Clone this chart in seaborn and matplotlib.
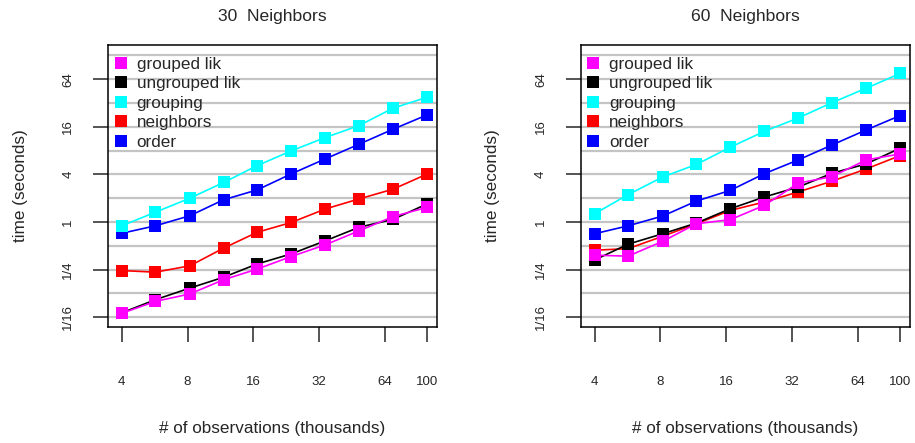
import pandas as pd
import numpy as np
import matplotlib.pyplot as plt
from matplotlib.lines import Line2D
import seaborn as sns


# observations (thousands)
n_obs = [4, 5.7, 8.2, 11.7, 16.7, 23.9, 34.2, 48.9, 69.9, 100]

series_names  = ['grouped lik', 'ungrouped lik', 'grouping', 'neighbors', 'order']
series_colors = ['#ff00ff', '#000000', '#00ffff', '#ff0000', '#0000ff']

# 30 neighbors, time in seconds
grouped_30   = [0.070, 0.099, 0.123, 0.186, 0.254, 0.366, 0.514, 0.774, 1.17, 1.53]
ungrouped_30 = [0.071, 0.104, 0.146, 0.200, 0.295, 0.395, 0.578, 0.858, 1.08, 1.69]
grouping_30  = [0.895, 1.33, 2.0, 3.16, 5.17, 7.94, 11.7, 16.6, 27.5, 37.8]
neighbors_30 = [0.243, 0.232, 0.279, 0.467, 0.742, 0.986, 1.46, 1.96, 2.60, 4.03]
order_30     = [0.72, 0.895, 1.20, 1.91, 2.55, 4.06, 6.28, 9.65, 14.9, 22.6]

# 60 neighbors
grouped_60   = [0.38, 0.37, 0.57, 0.95, 1.07, 1.62, 3.10, 3.76, 6.1, 7.26]
ungrouped_60 = [0.33, 0.525, 0.71, 0.97, 1.47, 2.07, 2.77, 4.14, 5.43, 8.57]
grouping_60  = [1.27, 2.22, 3.71, 5.35, 8.82, 14.0, 20.7, 32.4, 49.2, 75.6]
neighbors_60 = [0.44, 0.46, 0.66, 0.95, 1.40, 1.79, 2.40, 3.29, 4.69, 6.92]
order_60     = [0.71, 0.895, 1.19, 1.84, 2.51, 4.08, 6.1, 9.45, 14.6, 22.2]

panels = [
	('30  Neighbors', [grouped_30, ungrouped_30, grouping_30, neighbors_30, order_30]),
	('60  Neighbors', [grouped_60, ungrouped_60, grouping_60, neighbors_60, order_60]),
]

x_ticks  = [4, 8, 16, 32, 64, 100]
y_ticks  = [1/16, 1/4, 1, 4, 16, 64]
y_labels = ['1/16', '1/4', '1', '4', '16', '64']
y_grid   = [2.0 ** k for k in range(-4, 8)]


sns.set_theme(style='white')
plt.rcParams['font.family'] = ['Liberation Sans', 'DejaVu Sans']

fig = plt.figure(figsize=(9.15, 4.43), dpi=100)
ax_pos = [[0.1184, 0.2625, 0.359, 0.6366], [0.635, 0.2625, 0.3596, 0.6366]]

for (title, values), pos in zip(panels, ax_pos):
	ax = fig.add_axes(pos)

	for y in y_grid:
		ax.axhline(y, color='#c4c4c4', lw=1.6, zorder=0)

	# draw back to front so grouped lik ends up on top
	for name, vals, col in reversed(list(zip(series_names, values, series_colors))):
		df = pd.DataFrame({'n': n_obs, 't': vals})
		sns.lineplot(data=df, x='n', y='t', ax=ax, color=col, lw=1.2,
			marker='s', markersize=8.8, markeredgewidth=0, zorder=3)

	ax.set_xscale('log', base=2)
	ax.set_yscale('log', base=2)
	ax.set_xlim(3.47, 111.0)
	ax.set_ylim(2 ** -4.4, 2 ** 7.45)

	ax.set_xticks(x_ticks)
	ax.set_xticklabels([str(v) for v in x_ticks])
	ax.set_yticks(y_ticks)
	ax.set_yticklabels(y_labels, rotation=90, va='center')
	ax.minorticks_off()
	ax.tick_params(axis='x', length=10.5, width=1.1, pad=25, labelsize=9.5, direction='out', bottom=True)
	ax.tick_params(axis='y', length=10.5, width=1.1, pad=14, labelsize=9.5, direction='out', left=True)

	for s in ax.spines.values():
		s.set_color('black')
		s.set_linewidth(1.1)

	ax.set_xlabel('# of observations (thousands)', fontsize=12.3, labelpad=23.5)
	ax.set_ylabel('time (seconds)', fontsize=12.3, labelpad=25)
	ax.set_title(title, fontsize=12.6, pad=17)

	handles = [Line2D([], [], ls='none', marker='s', markersize=8.8, markeredgewidth=0, color=c)
		for c in series_colors]
	ax.legend(handles, series_names, loc='upper left', bbox_to_anchor=(0.017, 0.958),
		frameon=False, fontsize=12.3, labelspacing=0.27, handlelength=0.8,
		handletextpad=0.53, borderaxespad=0, borderpad=0)

plt.savefig('out.png', dpi=100)
